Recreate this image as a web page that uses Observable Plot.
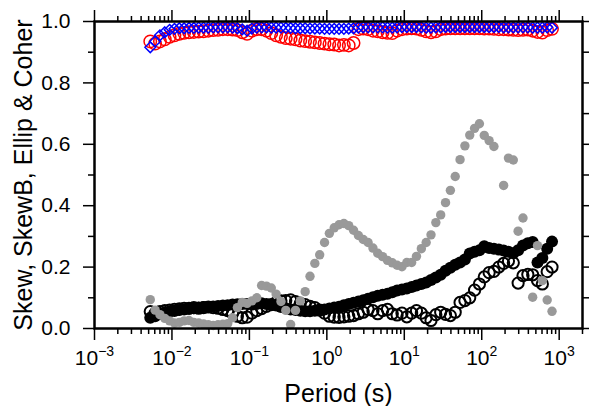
<!DOCTYPE html>
<html><head><meta charset="utf-8">
<script src="https://cdn.jsdelivr.net/npm/d3@7"></script>
<script src="https://cdn.jsdelivr.net/npm/@observablehq/plot@0.6"></script>
<style>
body{margin:0;background:#fff;}
svg{display:block;font-family:"Liberation Sans",Arial,Helvetica,sans-serif;}
</style>
</head><body><div id="chart"></div>
<script>
// Period (s)
const periods = [0.005248,0.006061,0.006998,0.008082,0.009333,
0.01078,0.01245,0.01437,0.0166,0.01917,0.02213,0.02556,0.02951,0.03408,0.03936,0.04545,0.05248,0.06061,0.06998,0.08082,0.09333,
0.1078,0.1245,0.1437,0.166,0.1917,0.2213,0.2556,0.2951,0.3408,0.3936,0.4545,0.5248,0.6061,0.6998,0.8082,0.9333,
1.078,1.245,1.437,1.66,1.917,2.213,2.556,2.951,3.408,3.936,4.545,5.248,6.061,6.998,8.082,9.333,
10.78,12.45,14.37,16.6,19.17,22.13,25.56,29.51,34.08,39.36,45.45,52.48,60.61,69.98,80.82,93.33,
107.8,124.5,143.7,166,191.7,221.3,255.6,295.1,340.8,393.6,454.5,524.8,606.1,699.8,808.2];

// Skew (black filled circles)
const skew = [0.035,0.04,0.048,0.052,0.055,
0.057,0.06,0.062,0.064,0.066,
0.068,0.07,0.07,0.072,0.073,
0.075,0.076,0.078,0.079,0.08,
0.08,0.078,0.08,0.082,0.08,
0.078,0.075,0.07,0.066,0.062,
0.06,0.058,0.056,0.056,0.058,
0.06,0.062,0.065,0.068,0.071,
0.076,0.08,0.084,0.088,0.092,
0.097,0.102,0.107,0.11,0.113,
0.118,0.124,0.127,0.13,0.135,
0.14,0.145,0.15,0.158,0.166,
0.175,0.188,0.198,0.208,0.215,
0.225,0.244,0.25,0.255,0.268,
0.262,0.26,0.257,0.254,0.25,
0.245,0.255,0.27,0.278,0.282,
0.215,0.23,0.26,0.283];

// SkewB (grey filled circles)
const skewB = [0.094,0.06,0.045,0.033,0.025,
0.018,0.02,0.025,0.026,0.02,
0.018,0.015,0.012,0.01,0.012,
0.014,0.016,0.035,0.068,0.085,
0.082,0.09,0.10,0.14,0.138,
0.132,0.112,0.088,0.059,0.013,
0.059,0.09,0.12,0.17,0.212,
0.24,0.28,0.31,0.328,0.338,
0.342,0.335,0.32,0.303,0.29,
0.28,0.262,0.245,0.234,0.222,
0.214,0.206,0.201,0.215,0.215,
0.235,0.26,0.28,0.305,0.345,
0.37,0.41,0.45,0.495,0.55,
0.595,0.63,0.652,0.667,0.629,
0.612,0.593,null,0.466,0.555,
0.549,0.317,0.36,null,0.102,
0.27,0.156,0.093,0.056];

// Ellip (black open circles)
const ellip = [0.055,0.05,0.055,0.058,0.06,
0.062,0.064,0.066,0.066,0.068,
0.066,0.068,0.07,0.068,0.066,
0.062,0.058,0.05,0.04,0.035,
0.037,0.05,0.058,0.065,0.072,
0.078,0.085,0.09,0.091,0.093,
0.088,0.082,0.078,0.072,0.068,
0.06,0.05,0.04,0.037,0.036,
0.038,0.04,0.042,0.048,0.053,
0.062,0.058,0.048,0.058,0.062,
0.048,0.044,0.05,0.038,0.05,
0.058,0.05,0.035,0.026,0.045,
0.053,0.046,0.042,0.053,0.085,
0.091,0.1,0.125,0.145,0.168,
0.182,0.186,0.2,0.212,0.22,
0.214,0.148,0.172,0.176,0.175,
0.156,0.145,0.185,0.2];

// Coher (red open circles)
const coher = [0.935,0.928,0.935,0.942,0.95,
0.955,0.96,0.963,0.965,0.966,
0.967,0.968,0.97,0.972,0.973,
0.975,0.975,0.974,0.972,0.965,
0.96,0.97,0.975,0.975,0.97,
0.962,0.955,0.95,0.946,0.944,
0.942,0.938,0.936,0.934,0.932,
0.93,0.928,0.926,0.925,0.922,
0.924,0.922,0.93,0.975,0.977,
0.975,0.97,0.968,0.965,0.963,
0.962,0.97,0.975,0.977,0.978,
0.977,0.973,0.968,0.965,0.968,
0.975,0.977,0.978,0.978,0.978,
0.978,0.978,0.978,0.978,0.977,
0.977,0.976,0.975,0.975,0.974,
0.973,0.972,0.973,0.974,0.97,
0.966,0.964,0.972,0.976];

// CoherB (blue open diamonds)
const coherB = [0.916,0.935,0.955,0.965,0.973,
0.976,0.978,0.978,0.979,0.979,
0.98,0.98,0.98,0.981,0.981,
0.981,0.981,0.98,0.978,0.974,
0.97,0.977,0.98,0.981,0.981,
0.98,0.98,0.98,0.979,0.979,
0.978,0.978,0.978,0.977,0.977,
0.977,0.976,0.976,0.976,0.976,
0.976,0.977,0.978,0.98,0.981,
0.981,0.981,0.981,0.981,0.98,
0.98,0.981,0.982,0.982,0.982,
0.982,0.981,0.98,0.98,0.981,
0.981,0.982,0.982,0.982,0.982,
0.982,0.982,0.982,0.982,0.982,
0.982,0.982,0.982,0.981,0.981,
0.981,0.981,0.981,0.981,0.98,
0.98,0.98,0.981,0.98];

const majorX = [1e-3, 1e-2, 1e-1, 1, 10, 100, 1000];
const minorMult = [2,3,4,5,6,7,8,9];
const majorY = [0, 0.2, 0.4, 0.6, 0.8, 1.0];
const minorY = [0.1, 0.3, 0.5, 0.7, 0.9];
const xTitle = "Period (s)";
const yTitle = "Skew, SkewB, Ellip & Coher";

const minorX = majorX.flatMap(d => minorMult.map(m => d * m)).filter(v => v <= 2000);
const rows = arr => periods.map((p, i) => ({p, v: arr[i]})).filter(d => d.v != null);

const chart = Plot.plot({
  width: 595, height: 406,
  marginTop: 21, marginRight: 13, marginBottom: 78, marginLeft: 94,
  x: {type: "log", domain: [0.001, 2000], label: null},
  y: {domain: [0, 1], label: null},
  style: {fontFamily: "'Liberation Sans', Arial, sans-serif", fontSize: "21px", color: "black", background: "white"},
  marks: [
    Plot.dot(rows(skew), {x: "p", y: "v", r: 6, fill: "black"}),
    Plot.dot(rows(ellip), {x: "p", y: "v", r: 5.6, fill: "none", stroke: "black", strokeWidth: 2}),
    Plot.dot(rows(skewB), {x: "p", y: "v", r: 4.7, fill: "#999999"}),
    Plot.dot(rows(coher), {x: "p", y: "v", r: 6.2, fill: "none", stroke: "#ff0000", strokeWidth: 1.5}),
    Plot.dot(rows(coherB), {x: "p", y: "v", r: 4.8, symbol: "diamond2", fill: "none", stroke: "#0000ff", strokeWidth: 1.5}),
    Plot.frame({stroke: "black", strokeWidth: 2.5}),
    // bottom axis
    Plot.axisX({ticks: majorX, tickSize: 12, tickPadding: 10, strokeWidth: 1.5, fontSize: 21, label: null,
      tickFormat: d => "10^" + Math.round(Math.log10(d))}),
    Plot.axisX({ticks: minorX, tickSize: 6, strokeWidth: 1.5, label: null, tickFormat: () => ""}),
    // top axis
    Plot.axisX({anchor: "top", ticks: majorX, tickSize: 12, strokeWidth: 1.5, label: null, tickFormat: () => ""}),
    Plot.axisX({anchor: "top", ticks: minorX, tickSize: 6, strokeWidth: 1.5, label: null, tickFormat: () => ""}),
    // left axis
    Plot.axisY({ticks: majorY, tickSize: 11, tickPadding: 13, strokeWidth: 1.5, fontSize: 21, label: null,
      tickFormat: d3.format(".1f")}),
    Plot.axisY({ticks: minorY, tickSize: 6, strokeWidth: 1.5, label: null, tickFormat: () => ""}),
    // right axis
    Plot.axisY({anchor: "right", ticks: majorY.concat(minorY), tickSize: 6, strokeWidth: 1.5, label: null, tickFormat: () => ""}),
    // titles
    Plot.text([xTitle], {text: d => d, frameAnchor: "bottom", dy: 65, fontSize: 25, lineAnchor: "middle"}),
    Plot.text([yTitle], {text: d => d, frameAnchor: "left", rotate: -90, dx: -71, fontSize: 25, lineAnchor: "middle", textAnchor: "middle"})
  ]
});

// superscript exponents in x tick labels
d3.select(chart).selectAll("text").each(function() {
  const t = this.textContent;
  if (/^10\^-?\d+$/.test(t)) {
    const e = +t.split("^")[1];
    const sel = d3.select(this);
    sel.text("");
    sel.append("tspan").text("10");
    sel.append("tspan").attr("dy", "-9").attr("font-size", "14px").text((e < 0 ? "\u2212" : "") + Math.abs(e));
  }
});

document.getElementById("chart").appendChild(chart);
</script>
</body></html>
